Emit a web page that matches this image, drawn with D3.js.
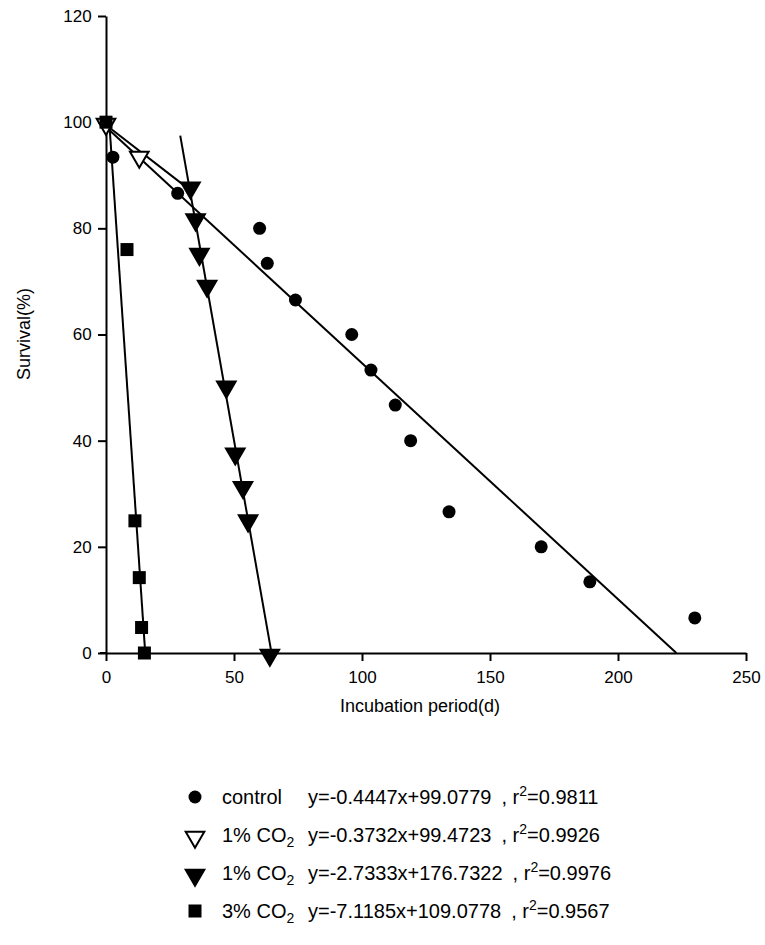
<!DOCTYPE html>
<html><head><meta charset="utf-8">
<script src="https://cdn.jsdelivr.net/npm/d3@7"></script>
<style>body{margin:0;background:#fff}text{font-family:"Liberation Sans",Arial,sans-serif}</style>
</head><body><div id="chart"></div>
<script>
const controlX = [0, 2.7, 28, 60, 63, 74, 96, 103.5, 113, 119, 134, 170, 189, 230];
const controlY = [100, 93.4, 86.6, 80, 73.4, 66.5, 60, 53.3, 46.7, 40, 26.6, 20, 13.4, 6.6];
const open1X = [0, 13];
const open1Y = [100, 93.8];
const fill1X = [33, 35, 36.5, 39.5, 47, 50.5, 53.5, 55.5, 64];
const fill1Y = [88, 82, 75.5, 69.5, 50.5, 37.9, 31.6, 25.3, 0];
const sq3X = [0, 8.2, 11.3, 13, 13.9, 15];
const sq3Y = [100, 76, 24.9, 14.2, 4.8, 0];
// fitted lines: slope, intercept, x range
const fits = [
  {m: -0.4447, b: 99.0779, x0: 0, x1: 222.8},
  {m: -0.3732, b: 99.4723, x0: 0, x1: 33},
  {m: -2.7333, b: 176.7322, x0: 29, x1: 64.7},
  {m: -7.1185, b: 109.0778, x0: 1.27, x1: 15.3}
];
const xTicks = [0, 50, 100, 150, 200, 250];
const yTicks = [0, 20, 40, 60, 80, 100, 120];

const svg = d3.select("#chart").append("svg").attr("width", 765).attr("height", 945);
const x = d3.scaleLinear().domain([0, 250]).range([106, 746]);
const y = d3.scaleLinear().domain([0, 120]).range([653, 16]);

svg.append("g").attr("transform", "translate(0,653)")
  .call(d3.axisBottom(x).tickValues(xTicks).tickSize(8).tickSizeOuter(0))
  .call(g => g.attr("font-size", 17).attr("font-family", null).selectAll("text").attr("dy", "1.1em"));
svg.append("g").attr("transform", "translate(106,0)")
  .call(d3.axisLeft(y).tickValues(yTicks).tickSize(8).tickSizeOuter(0))
  .call(g => g.attr("font-size", 17).attr("font-family", null).selectAll("text").attr("dx", "-0.2em"));
svg.selectAll(".domain, .tick line").attr("stroke", "#000").attr("stroke-width", 2);
svg.append("line").attr("x1", 100).attr("x2", 106).attr("y1", 653).attr("y2", 653).attr("stroke", "#000").attr("stroke-width", 2);

svg.append("text").attr("x", 420).attr("y", 712).attr("text-anchor", "middle").attr("font-size", 18).text("Incubation period(d)");
svg.append("text").attr("transform", "translate(30,334) rotate(-90)").attr("text-anchor", "middle").attr("font-size", 18).text("Survival(%)");

fits.forEach(f => {
  svg.append("line").attr("x1", x(f.x0)).attr("y1", y(f.m * f.x0 + f.b))
    .attr("x2", x(f.x1)).attr("y2", y(f.m * f.x1 + f.b))
    .attr("stroke", "#000").attr("stroke-width", 2);
});

const triDown = d3.symbol().type(d3.symbolTriangle).size(150);
function drawPts(xs, ys, kind) {
  xs.forEach((v, i) => {
    const g = svg.append("g").attr("transform", `translate(${x(v)},${y(ys[i])})`);
    mark(g, kind);
  });
}
function mark(g, kind) {
  if (kind === "circle") g.append("circle").attr("r", 6.5).attr("fill", "#000");
  else if (kind === "square") g.append("rect").attr("x", -6.5).attr("y", -6.5).attr("width", 13).attr("height", 13).attr("fill", "#000");
  else g.append("path").attr("d", triDown).attr("transform", "rotate(180) translate(0,-2)")
    .attr("fill", kind === "open" ? "#fff" : "#000").attr("stroke", "#000").attr("stroke-width", 2);
}
drawPts(controlX, controlY, "circle");
drawPts(open1X, open1Y, "open");
drawPts(fill1X, fill1Y, "fill");
drawPts(sq3X, sq3Y, "square");

const legend = [
  {kind: "circle", name: "control", eq: "y=-0.4447x+99.0779", r: "0.9811"},
  {kind: "open", name: "1% CO", eq: "y=-0.3732x+99.4723", r: "0.9926"},
  {kind: "fill", name: "1% CO", eq: "y=-2.7333x+176.7322", r: "0.9976"},
  {kind: "square", name: "3% CO", eq: "y=-7.1185x+109.0778", r: "0.9567"}
];
legend.forEach((d, i) => {
  const ly = 797 + i * 38;
  mark(svg.append("g").attr("transform", `translate(195,${ly})`), d.kind);
  const t = svg.append("text").attr("x", 222).attr("y", ly + 7).attr("font-size", 20);
  t.append("tspan").text(d.name);
  if (d.kind !== "circle") t.append("tspan").attr("dy", 5).attr("font-size", 14).text("2");
  const r = svg.append("text").attr("x", 308).attr("y", ly + 7).attr("font-size", 20);
  r.append("tspan").text(d.eq);
  r.append("tspan").attr("dx", 10).text(", r");
  r.append("tspan").attr("dy", -8).attr("font-size", 14).text("2");
  r.append("tspan").attr("dy", 8).text("=" + d.r);
});
</script></body></html>
